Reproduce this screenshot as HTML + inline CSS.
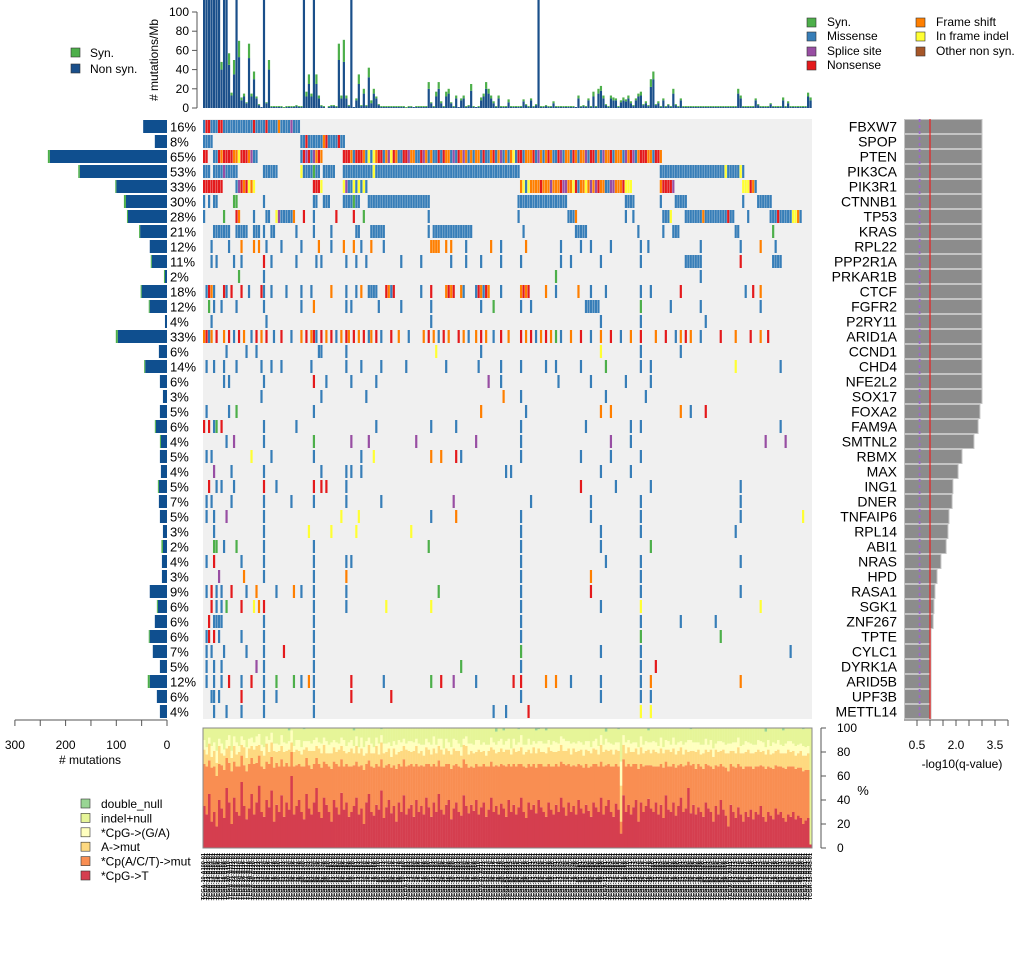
<!DOCTYPE html>
<html><head><meta charset="utf-8"><style>
body{margin:0;background:#fff;}
svg{display:block;font-family:"Liberation Sans",sans-serif;}
</style></head><body>
<svg id="chart" width="1020" height="960" viewBox="0 0 1020 960" xmlns="http://www.w3.org/2000/svg"></svg>
<script>
const genes=["FBXW7","SPOP","PTEN","PIK3CA","PIK3R1","CTNNB1","TP53","KRAS","RPL22","PPP2R1A","PRKAR1B","CTCF","FGFR2","P2RY11","ARID1A","CCND1","CHD4","NFE2L2","SOX17","FOXA2","FAM9A","SMTNL2","RBMX","MAX","ING1","DNER","TNFAIP6","RPL14","ABI1","NRAS","HPD","RASA1","SGK1","ZNF267","TPTE","CYLC1","DYRK1A","ARID5B","UPF3B","METTL14"];
const pctLabels=["16%","8%","65%","53%","33%","30%","28%","21%","12%","11%","2%","18%","12%","4%","33%","6%","14%","6%","3%","5%","6%","4%","5%","4%","5%","7%","5%","3%","2%","4%","3%","9%","6%","6%","6%","7%","5%","12%","6%","4%"];
const geneNonsyn=[47,24,231,172,100,81,77,53,34,30,4,50,34,4,97,16,43,14,8,14,22,12,14,12,16,16,14,8,8,10,10,34,18,24,34,28,14,34,20,14];
const geneSyn=[0,0,4,3,2,4,2,2,0,2,2,2,2,0,4,0,2,0,0,0,2,2,0,0,2,0,0,0,3,0,0,0,2,0,2,0,0,4,0,0];
const qValues=[3.0,3.0,3.0,3.0,3.0,3.0,3.0,3.0,3.0,3.0,3.0,3.0,3.0,3.0,3.0,3.0,3.0,3.0,3.0,2.92,2.85,2.69,2.23,2.08,1.88,1.85,1.73,1.69,1.62,1.42,1.27,1.19,1.15,1.12,1.04,1.04,1.04,1.04,1.04,1.04];
const mutations=[
"0-38:m 1-2:n 6n 7n 20n 25n 30f 35s",
"0-3:m 39-56:m 41n 48f 49n 54n",
"0-1:n 4-5:m 6n 7f 8n 9-11:n 12-13:f 14i 15-17:n 18f 19s 20-21:m 39:mnsnmsfnf 56:nnnfmnnnfmimifnnmfsinfmmnnsffmmnsfmfmmnmnffmsmnfsfmfmffmnmmfnmfsmfmfimnnmfffnmsfmfnfmmnsmffmnfmffsmnnmfmsffnmfffmsfnsmfnnnffmnnf",
"0-2:m 4-13:m 8s 24-29:m 39i 40-46:m 44y 48-52:m 56-126:m 68i 183-216:m 209i 215i",
"0-3:n 4-7:n 13:msnfnifi 44-46:n 47i 56:ismmimimim 127:fimiffffnfffsfffnssffinmffifsfsnffmmssfffniii 183:fnnnns 216:iiinfm",
"0m 2m 4-5:m 12-13:y 24m 44-45:m 48-50:m 56-62:m 60y 66-90:m 126-145:m 169-172:m 183m 189-193:m 216m 222-227:m",
"0m 8y 13n 14f 20m 25-26:m 29i 30s 31-35:m 36f 40n 44m 53n 60n 64y 90m 126m 146-148:m 149f 169m 172m 184-186:m 187i 193-212:m 200f 210n 218m 227-239:m 230n 236-237:i 238f",
"4-7:m 8-10:m 13-17:m 20-22:m 24m 27-28:m 37m 44m 51m 61-62:m 67-72:m 90m 92-107:m 128m 149-153:m 174m 184m 188-190:m 213-214:m 228y",
"3m 10m 15f 20f 22f 25m 31m 39m 46f 51m 56f 60f 63m 67f 72m 91-94:f 97f 99f 105m 115f 119m 129f 143m 151m 155m 163m 175m 178m 199m 215m 223f 229m",
"3m 5m 12m 15m 24n 27m 37m 45m 47m 57m 61m 65m 79m 87m 99m 105m 111m 119m 127m 143m 147m 159m 175m 193-199:m 215n 228-231:m",
"14y 24m 141y 199m",
"1:mnfm 8n 9m 11n 15n 18m 23:nm 27m 33m 39m 43m 51f 57m 61m 63f 66-69:m 73:nfmn 87m 91n 97:fnfn 103:fm 109:mnfmnf 119m 127:fnfn 137f 141m 150f 155m 161m 175m 179m 191n 217m 220n 223f",
"2y 4m 7m 13m 24m 39m 44f 57m 59m 70m 79m 91m 111m 116y 127m 131m 153-158:m 175y 187m 199m 223m",
"3m 25m 91m 159m 175m 201m",
"0f 1n 2m 3f 5n 8f 10n 12m 14n 16f 19m 21n 23f 25n 28m 31n 35m 39f 41n 43f 44n 45m 47n 49f 51n 53m 55f 57n 58f 60n 62f 64n 66m 67f 69n 71m 75n 78f 82m 88f 90n 92f 94m 96n 98f 102n 104f 106m 109f 111n 113f 116m 119n 122f 127n 129f 131n 133m 135f 137n 139f 141y 143m 147f 151n 155m 159f 163n 167m 171f 175n 181f 185n 189m 191f 193n 195f 199m 207n 213f 219n 223f 226n",
"9m 17m 21m 46m 47m 57m 93i 111m 159i 175m 191m",
"1m 4m 8m 13m 23m 27m 31m 43m 57m 63m 71m 81m 97m 110m 119m 127m 137m 141m 151m 161y 175m 179m 213i 231m",
"8m 10m 24m 44n 49m 59m 69m 114s 119m 142m 155m 169m 179m",
"23m 47m 65m 120f 127m 161m 177m",
"1m 10m 13y 44m 111f 129m 159f 163f 191f 195m 201n",
"0n 2n 4m 5y 7n 24m 37m 69m 91m 101m 127m 153m 171m 175m 231m",
"9m 12s 24m 44y 59s 66s 85s 109s 127m 163s 171m 225s 233s",
"1m 3m 19i 27m 44m 63m 68i 91f 95f 101n 103m 127m 151m 163m 175m",
"4s 11m 24m 47m 57m 59m 63m 121m 123m 159m 171m",
"2n 5m 7m 12m 24n 29m 44n 47n 49n 57m 151n 165m 179m 215m",
"1m 3m 11m 24m 35m 44m 57m 71m 100s 131m 155m 175m 215m",
"1m 4m 9s 24m 55i 62i 91m 101f 127m 155m 175m 215m 240i",
"4m 24m 42i 51i 61i 83i 127m 159m 175m 213m",
"4y 5y 8m 13y 24m 44m 90y 127m 159m 179y",
"1m 4n 15m 24m 44m 57m 59m 127m 161m 175m 215m",
"6s 16f 24m 44m 57f 127m 155f 175m",
"1m 3n 5m 7m 11n 17m 21f 29m 36f 39m 44m 57m 94y 127m 155n 175m 215m",
"3n 5m 7m 9y 15n 20i 22f 24n 44m 57m 73i 91i 127m 159m 175i 223i",
"2n 4-7:m 24m 44m 127m 175m 191m 205m",
"1m 2n 4n 6m 15m 24m 44m 127m 175y 207y",
"1m 3m 8m 17m 24m 32n 44m 127y 159m 175m 235m",
"1m 4m 7m 21s 24m 44m 103y 127m 175m 181n",
"1m 4m 7m 10n 15m 19n 24m 29y 36y 39m 42f 44m 59n 72m 91y 95n 100s 109m 124n 127n 137f 141f 147m 159m 175m 179f 215f",
"3m 4m 6m 15n 24m 29m 44m 59n 75n 127m 159m 175m 179m",
"4m 9m 15m 24m 44m 116m 121m 130n 175i 179i"
];
const tmbNonsyn=[140,150,130,120,150,140,130,40,150,150,45,13,35,150,53,8,12,5,52,12,30,10,3,1,150,5,40,1,1,1,1,1,0,1,1,1,1,2,1,1,150,12,25,12,150,25,10,2,1,0,1,2,2,1,50,10,48,10,2,150,1,8,25,2,15,2,32,5,15,10,3,1,1,1,1,1,1,1,1,1,1,0,1,1,1,1,1,1,1,1,20,5,1,12,20,5,1,12,15,5,1,10,1,8,10,1,2,18,1,1,1,8,12,20,15,10,5,1,10,1,1,1,6,1,1,1,1,1,7,3,1,8,1,3,150,1,1,2,1,1,5,1,1,1,1,1,1,1,1,1,10,1,2,1,8,1,12,1,15,18,10,3,1,10,8,8,1,6,8,7,10,5,2,8,12,13,3,5,2,22,30,3,5,1,8,1,3,1,15,3,1,8,1,1,1,1,1,1,1,1,1,1,1,1,1,1,1,1,1,1,1,1,1,1,15,10,1,1,1,1,1,8,3,1,1,1,1,4,1,1,1,1,8,1,5,1,1,1,1,1,1,1,12,8];
const tmbSyn=[0,0,0,0,0,0,0,8,0,0,12,3,15,0,17,3,3,1,15,3,8,2,1,0,0,1,10,1,1,1,1,1,1,1,1,1,1,1,1,1,0,5,10,3,0,10,3,1,1,0,1,1,1,1,17,3,23,3,1,0,0,2,10,1,5,1,10,3,5,2,1,1,1,1,1,1,1,1,1,1,1,1,1,1,0,1,1,1,1,1,7,1,1,5,7,2,1,5,5,1,1,3,0,2,3,1,1,7,1,0,1,3,3,7,5,3,2,1,3,1,1,1,3,1,1,1,1,1,2,1,1,2,1,1,0,1,1,1,1,1,2,1,1,1,1,1,1,1,1,0,3,1,1,1,2,1,5,1,5,5,3,1,1,3,3,2,1,2,3,2,3,2,1,2,3,4,1,2,1,8,8,1,2,1,2,1,1,1,5,1,1,2,1,1,1,1,1,1,1,1,1,1,1,1,1,1,1,1,1,1,1,1,1,1,5,3,1,1,1,1,1,2,1,1,1,1,1,1,1,1,1,1,3,1,2,1,1,1,1,1,1,1,4,3];
const spCpgT=[35,28,45,22,30,18,40,33,25,50,38,20,42,30,27,55,35,24,33,45,28,38,52,30,26,40,34,48,22,36,30,44,26,38,32,60,28,35,40,30,24,45,33,28,38,50,30,25,42,36,30,22,40,34,28,46,32,38,26,30,35,42,28,33,20,38,45,30,27,36,32,48,25,34,40,29,35,22,38,30,44,28,33,36,26,40,30,35,28,42,34,26,38,30,45,32,28,36,40,24,33,38,30,27,44,35,29,36,31,40,28,34,38,26,32,42,30,35,28,37,33,26,40,30,36,28,34,42,30,25,38,32,36,29,40,34,30,26,38,32,28,36,30,42,34,27,38,30,35,28,40,33,29,36,31,26,38,34,30,42,28,35,40,30,26,37,32,12,44,30,36,28,34,40,22,38,30,35,41,33,30,38,28,36,25,44,32,30,38,27,35,42,30,33,50,29,36,28,34,30,26,38,33,30,22,35,28,40,32,27,18,36,30,25,34,28,22,30,26,32,24,30,28,35,26,22,30,27,24,33,28,30,25,22,28,26,30,24,27,25,20,23,25,3];
const spCpACT=[35,40,28,45,38,42,30,36,40,25,33,44,30,38,41,22,34,40,37,30,42,33,25,38,40,32,36,28,45,35,38,30,42,33,36,20,40,34,30,38,44,30,36,38,32,25,40,42,30,34,38,44,32,36,40,28,36,32,42,38,34,30,40,36,45,32,28,38,40,34,36,26,42,35,30,38,34,44,32,38,30,40,36,34,42,30,38,34,40,28,36,42,32,38,28,36,40,34,30,42,36,32,38,40,30,35,38,32,36,30,40,34,32,42,36,30,38,34,40,33,36,42,30,38,34,40,36,28,38,42,32,36,34,38,30,36,38,42,32,36,40,34,38,30,36,42,32,38,34,40,30,36,38,34,36,42,32,36,38,30,40,34,30,38,42,33,36,10,30,38,34,40,36,30,44,32,38,34,28,36,38,30,40,34,42,28,36,38,32,40,34,28,38,36,22,40,34,38,36,38,40,32,36,38,44,34,40,30,36,40,46,34,38,42,36,40,44,38,42,36,42,38,40,34,42,44,38,40,42,36,40,38,42,44,40,42,38,42,40,42,44,42,40,0];
const spAmut=[12,10,14,9,13,11,15,10,12,8,14,11,13,10,12,9,15,11,13,10,12,14,9,13,11,15,10,12,14,9,13,11,12,10,14,8,12,13,11,10,14,9,12,15,11,10,13,12,14,9,11,13,12,10,14,11,13,9,12,15,10,13,11,14,12,9,13,11,12,15,10,14,12,11,13,9,14,12,10,13,11,14,12,10,13,15,11,12,9,14,12,10,13,11,12,14,10,13,11,12,14,11,13,10,12,15,11,13,12,10,14,12,11,9,13,12,14,10,12,13,11,14,12,10,13,12,11,14,10,13,12,11,14,12,13,10,12,11,14,13,12,10,13,14,11,12,13,10,14,12,11,13,10,12,14,11,13,12,10,14,12,13,11,14,10,12,13,30,12,11,14,12,10,13,12,14,11,12,13,10,14,12,11,13,12,10,14,12,13,11,12,14,10,13,8,12,11,14,12,10,13,12,11,14,10,13,12,11,14,12,15,11,13,12,14,11,13,12,14,11,13,12,14,11,13,12,14,11,13,12,14,11,12,13,14,12,13,11,12,14,13,12,14,0];
const spCpgGA=[8,6,5,9,7,10,6,8,5,7,9,6,8,10,5,7,6,9,8,7,6,8,9,5,7,6,10,8,6,7,5,9,8,6,7,10,5,8,9,6,7,5,8,6,9,7,5,8,6,10,7,9,6,8,5,7,9,6,8,7,6,8,5,9,7,10,6,8,5,7,9,6,8,7,5,9,6,8,10,7,6,5,8,9,7,6,8,5,9,7,6,8,10,7,6,9,5,8,7,6,8,9,6,7,5,8,9,6,7,10,8,6,7,9,5,8,6,7,9,8,6,7,9,5,8,6,7,10,8,6,9,7,5,8,6,9,7,8,6,5,9,8,6,7,10,8,6,9,5,7,8,6,9,7,8,5,6,9,7,8,6,9,7,5,8,6,7,20,8,9,6,7,8,5,6,9,7,8,6,9,7,8,6,9,5,8,7,6,9,8,7,5,8,6,10,9,7,8,6,8,7,9,6,8,7,5,9,8,6,7,8,6,7,9,8,6,7,9,6,8,7,6,8,9,7,6,8,7,9,6,8,7,6,8,7,9,6,8,7,6,8,7,6,0];
const dblIdx=[34,40,60,71,117,120,126,133,134,137,161,166,178,195,225,232,240];
const dblVal=[2,1,2,1,3,2,1,2,1,2,3,1,2,1,3,2,1];
const tmbTicks=[0,20,40,60,80,100];
const spTicks=[0,20,40,60,80,100];
const mutTicks=[300,250,200,150,100,50,0];
const mutTickLabels=[300,200,100,0];
const qTicks=[0.5,1.0,1.5,2.0,2.5,3.0,3.5,4.0];
const qTickLabels=[0.5,2.0,3.5];

const NS='http://www.w3.org/2000/svg';
const svg=document.getElementById('chart');
const N=tmbNonsyn.length;
const X0=203,X1=812,SW=(X1-X0)/N,ROW0=119,RH=15;
const COL={m:'#377EB8',n:'#E41A1C',f:'#FF7F00',i:'#FFFF33',s:'#984EA3',y:'#4DAF4A',o:'#A65628'};
function mk(tag,attrs,parent){const e=document.createElementNS(NS,tag);for(const k in attrs)e.setAttribute(k,attrs[k]);(parent||svg).appendChild(e);return e;}
function txt(x,y,s,size,anchor,parent){const t=mk('text',{x:x,y:y,'font-size':size,'text-anchor':anchor||'start',fill:'#000'},parent);t.textContent=s;return t;}
const sx=i=>X0+i*SW;
const tmbY=v=>108-Math.min(v,116)*0.96;
const spY=v=>848-v*1.2;
const mutX=v=>167-v*0.507;
const qX=v=>904+v*26;

// top TMB chart
const gTop=mk('g',{});
for(let i=0;i<N;i++){
  const ns=tmbNonsyn[i],sy=tmbSyn[i];
  const b=mk('rect',{x:sx(i),y:tmbY(ns),width:SW-0.3,height:108-tmbY(ns),fill:'#1a4f8a'},gTop);
  
  
  if(sy>0){const s=mk('rect',{x:sx(i),y:tmbY(ns+sy),width:SW-0.3,height:tmbY(ns)-tmbY(ns+sy),fill:'#4DAF4A'},gTop);
  
  }
}
mk('line',{x1:197,y1:tmbY(0),x2:197,y2:tmbY(100),stroke:'#555'},gTop);
tmbTicks.forEach(v=>{mk('line',{x1:192,x2:197,y1:tmbY(v),y2:tmbY(v),stroke:'#555'},gTop);
 const t=txt(189,tmbY(v)+4,String(v),12,'end',gTop);});
const yt=txt(0,0,'# mutations/Mb',12,'middle',gTop);yt.setAttribute('transform','translate(158,60) rotate(-90)');

// top-left legend
[['Syn.','#4DAF4A',53],['Non syn.','#1a4f8a',69]].forEach(d=>{
 const r=mk('rect',{x:71,y:d[2]-5,width:9,height:9,fill:d[1],stroke:'#333','stroke-width':0.6});
 const t=txt(90,d[2]+4,d[0],12);});

// top-right legend
[['Syn.','#4DAF4A',807,22],['Missense','#377EB8',807,36],['Splice site','#984EA3',807,51],['Nonsense','#E41A1C',807,65],['Frame shift','#FF7F00',916,22],['In frame indel','#FFFF33',916,36],['Other non syn.','#A65628',916,51]].forEach(d=>{
 const r=mk('rect',{x:d[2],y:d[3]-4,width:9,height:9,fill:d[1],stroke:'#333','stroke-width':0.6});
 const t=txt(d[2]+20,d[3]+4,d[0],12);});

// grid
const gGrid=mk('g',{});
mk('rect',{x:X0,y:ROW0,width:X1-X0,height:RH*genes.length,fill:'#f0f0f0'},gGrid);
function parse(str){const out=[];str.trim().split(/\s+/).forEach(tok=>{
 if(tok.indexOf(':')>=0){const [l,r]=tok.split(':');
   if(l.indexOf('-')>=0){const [a,b]=l.split('-').map(Number);for(let k=a;k<=b;k++)out.push([k,r]);}
   else{const a=Number(l);for(let k=0;k<r.length;k++)out.push([a+k,r[k]]);}}
 else{const m=tok.match(/^(\d+)([a-z])$/);if(m)out.push([Number(m[1]),m[2]]);}});return out;}
genes.forEach((g,r)=>{
 const y=ROW0+r*RH;
 const cells={};parse(mutations[r]).forEach(([i,t])=>{if(i<N)cells[i]=t;});
 for(const k in cells){const c=mk('rect',{x:sx(+k),y:y+1,width:SW-0.3,height:RH-2,fill:COL[cells[k]]},gGrid);
  
  }
 const gl=txt(897,y+12.5,g,14,'end');
 const pl=txt(170,y+12.5,pctLabels[r],13,'start');
 const lb=mk('rect',{x:mutX(geneNonsyn[r]),y:y+1,width:167-mutX(geneNonsyn[r]),height:RH-2,fill:'#0f4f8f'});
 
 if(geneSyn[r]>0){const ls=mk('rect',{x:mutX(geneNonsyn[r]+geneSyn[r]),y:y+1,width:mutX(geneNonsyn[r])-mutX(geneNonsyn[r]+geneSyn[r]),height:RH-2,fill:'#4DAF4A'});
 }
 const qb=mk('rect',{x:904.5,y:y+0.5,width:qX(qValues[r])-904.5,height:RH-1,fill:'#8c8c8c',stroke:'#c4c4c4','stroke-width':1});
 
});
const gQ=mk('g',{});
mk('line',{x1:qX(0.6),x2:qX(0.6),y1:ROW0,y2:ROW0+RH*genes.length,stroke:'#9a6ac8','stroke-width':1.8,'stroke-dasharray':'3,3'},gQ);
mk('line',{x1:qX(1.0),x2:qX(1.0),y1:ROW0,y2:ROW0+RH*genes.length,stroke:'#e82020','stroke-width':1.2},gQ);
mk('line',{x1:904,x2:1008,y1:720,y2:720,stroke:'#555'},gQ);
qTicks.forEach(v=>mk('line',{x1:qX(v),x2:qX(v),y1:720,y2:726,stroke:'#555'},gQ));
qTickLabels.forEach(v=>{const t=txt(qX(v),749,v.toFixed(1),12,'middle',gQ);});
const qt=txt(962,768,'-log10(q-value)',12,'middle',gQ);

const gL=mk('g',{});
mk('line',{x1:mutX(300),x2:mutX(0),y1:720,y2:720,stroke:'#555'},gL);
mutTicks.forEach(v=>mk('line',{x1:mutX(v),x2:mutX(v),y1:720,y2:726,stroke:'#555'},gL));
mutTickLabels.forEach(v=>{const t=txt(mutX(v),749,String(v),12,'middle',gL);});
const lt=txt(90,764,'# mutations',12,'middle',gL);

const gS=mk('g',{});
const SPC=['#d53e4f','#f98e52','#fed980','#ffffbf','#e6f598','#99d594'];
for(let i=0;i<N;i++){
 const di=dblIdx.indexOf(i);const dbl=di>=0?dblVal[di]:0;
 const parts=[spCpgT[i],spCpACT[i],spAmut[i],spCpgGA[i]];
 const rest=Math.max(0,100-parts.reduce((a,b)=>a+b,0)-dbl);
 parts.push(rest);parts.push(dbl);
 let acc=0;
 parts.forEach((p,k)=>{if(p<=0)return;const r=mk('rect',{x:sx(i),y:spY(acc+p),width:SW+0.2,height:p*1.2,fill:SPC[k]},gS);
  
  
  acc+=p;});
}
mk('rect',{x:X0,y:spY(100),width:X1-X0,height:120,fill:'none',stroke:'#888','stroke-width':1},gS);
mk('line',{x1:821,x2:821,y1:spY(0),y2:spY(100),stroke:'#555'},gS);
spTicks.forEach(v=>{mk('line',{x1:821,x2:826,y1:spY(v),y2:spY(v),stroke:'#555'},gS);
 const t=txt(837,spY(v)+4,String(v),12,'start',gS);});
const pt=txt(863,795,'%',13,'middle',gS);

const gN=mk('g',{});
for(let i=0;i<N;i++){const t=txt(0,0,'TCGA-'+(10+i%80)+'-A'+(100+i)+'-01',5.6,'end',gN);
 t.setAttribute('transform','translate('+(sx(i)+SW*0.9)+',853) rotate(-90)');
 t.setAttribute('font-weight','bold');
 
 }

[['double_null','#99d594'],['indel+null','#e6f598'],['*CpG->(G/A)','#ffffbf'],['A->mut','#fed980'],['*Cp(A/C/T)->mut','#f98e52'],['*CpG->T','#d53e4f']].forEach((d,k)=>{
 const y=804+k*14.4;
 const r=mk('rect',{x:81,y:y-5,width:9,height:9,fill:d[1],stroke:'#333','stroke-width':0.6});
 const t=txt(101,y+4,d[0],12);});
</script>
</body></html>
